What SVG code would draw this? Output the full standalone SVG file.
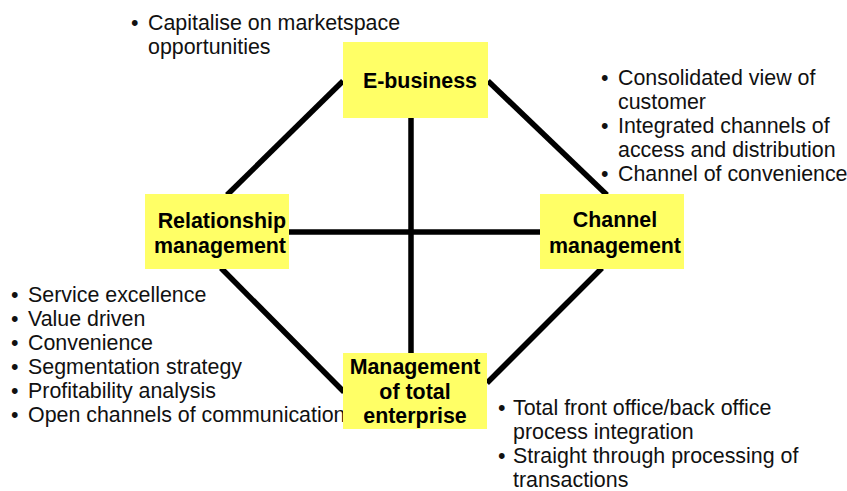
<svg xmlns="http://www.w3.org/2000/svg" width="847" height="491" viewBox="0 0 847 491">
<style>
.box{fill:#FFFF66;stroke:none}
.lbl{font-family:"Liberation Sans",Arial,sans-serif;font-weight:bold;font-size:21.4px;fill:#000}
.txt{font-family:"Liberation Sans",Arial,sans-serif;font-size:21.4px;fill:#111}
.con{stroke:#000;stroke-width:5.5;fill:none}
</style>
<rect width="847" height="491" fill="#fff"/>
<g id="connectors">
<line class="con" x1="343" y1="81" x2="227" y2="195"/>
<line class="con" x1="488" y1="81" x2="607" y2="195"/>
<line class="con" x1="221" y1="268" x2="344" y2="392"/>
<line class="con" x1="602" y1="268" x2="487" y2="383"/>
<line class="con" x1="411" y1="117" x2="411" y2="354"/>
<line class="con" x1="289" y1="232" x2="541" y2="232"/>
</g>
<g id="notes">
<g id="note-ebusiness">
<text class="txt" x="131" y="30">•</text>
<text class="txt" x="148" y="30">Capitalise on marketspace</text>
<text class="txt" x="148" y="54">opportunities</text>
</g>
<g id="note-channel">
<text class="txt" x="601" y="85">•</text>
<text class="txt" x="618" y="85">Consolidated view of</text>
<text class="txt" x="618" y="109">customer</text>
<text class="txt" x="601" y="133">•</text>
<text class="txt" x="618" y="133">Integrated channels of</text>
<text class="txt" x="618" y="157">access and distribution</text>
<text class="txt" x="601" y="181">•</text>
<text class="txt" x="618" y="181">Channel of convenience</text>
</g>
<g id="note-relationship">
<text class="txt" x="11" y="302">•</text>
<text class="txt" x="28" y="302">Service excellence</text>
<text class="txt" x="11" y="326">•</text>
<text class="txt" x="28" y="326">Value driven</text>
<text class="txt" x="11" y="350">•</text>
<text class="txt" x="28" y="350">Convenience</text>
<text class="txt" x="11" y="374">•</text>
<text class="txt" x="28" y="374">Segmentation strategy</text>
<text class="txt" x="11" y="398">•</text>
<text class="txt" x="28" y="398">Profitability analysis</text>
<text class="txt" x="11" y="422">•</text>
<text class="txt" x="28" y="422">Open channels of communication</text>
</g>
<g id="note-enterprise">
<text class="txt" x="498" y="415">•</text>
<text class="txt" x="513" y="415">Total front office/back office</text>
<text class="txt" x="513" y="439">process integration</text>
<text class="txt" x="498" y="463">•</text>
<text class="txt" x="513" y="463">Straight through processing of</text>
<text class="txt" x="513" y="487">transactions</text>
</g>
</g>
<g id="node-ebusiness">
<rect class="box" x="343" y="42" width="145" height="76"/>
<text class="lbl" x="477" y="88" text-anchor="end">E-business</text>
</g>
<g id="node-relationship">
<rect class="box" x="145" y="194" width="144" height="75"/>
<text class="lbl" x="286" y="228" text-anchor="end">Relationship</text>
<text class="lbl" x="286" y="253" text-anchor="end">management</text>
</g>
<g id="node-channel">
<rect class="box" x="540" y="194" width="144" height="75"/>
<text class="lbl" x="615" y="227" text-anchor="middle">Channel</text>
<text class="lbl" x="615" y="253" text-anchor="middle">management</text>
</g>
<g id="node-enterprise">
<rect class="box" x="343" y="353" width="144" height="76"/>
<text class="lbl" x="415" y="374" text-anchor="middle">Management</text>
<text class="lbl" x="415" y="399" text-anchor="middle">of total</text>
<text class="lbl" x="415" y="423" text-anchor="middle">enterprise</text>
</g>
</svg>
